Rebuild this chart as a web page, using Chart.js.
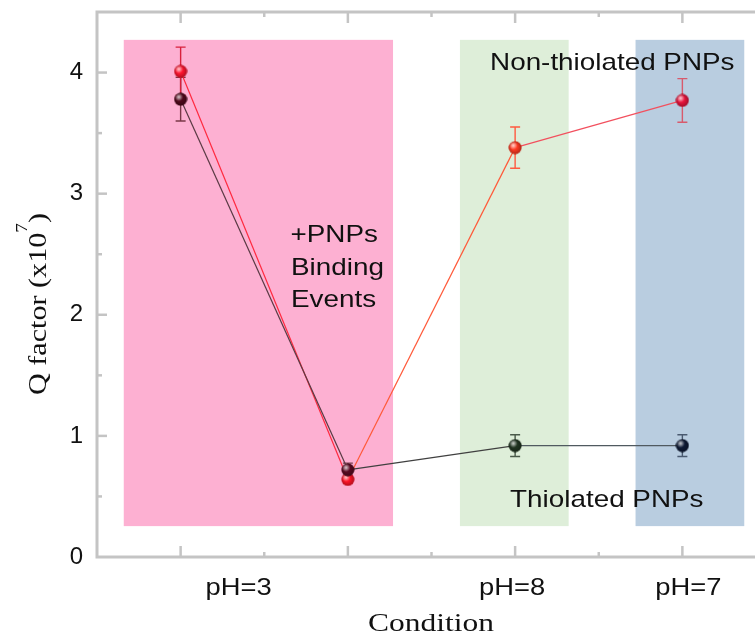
<!DOCTYPE html>
<html>
<head>
<meta charset="utf-8">
<script src="https://cdn.jsdelivr.net/npm/chart.js@4/dist/chart.umd.min.js"></script>
<style>
    body { margin: 0; overflow: hidden; background: #fff; }
    #qChart { display: block; }
</style>
</head>
<body>
<canvas id="qChart" width="780" height="639"></canvas>
<script>
// conditions along the x axis (second step has no label)
const conditions = ['pH=3', '', 'pH=8', 'pH=7'];

// Q factor (x10^7), mean and error
const nonThiolated = [4.01, 0.64, 3.38, 3.77];
const nonThiolatedErr = [0.2, 0.03, 0.17, 0.18];
const thiolated = [3.78, 0.72, 0.92, 0.92];
const thiolatedErr = [0.18, 0.055, 0.09, 0.09];

// shaded condition windows, in axis units
const bandFrom = [-0.34, 1.67, 2.72];
const bandTo = [1.27, 2.32, 3.37];
const bandLow = 0.255;
const bandHigh = 4.27;
const bandColors = ['rgb(253,176,210)', 'rgb(222,238,217)', 'rgb(185,205,224)'];

const redPointColors = ['#ff1530', '#ff1428', '#ff3a22', '#e8143c'];
const redErrColors = ['#d8203c', '#e02030', '#ff5a40', '#d85a6c'];
const redLineColors = ['#ff2a40', '#ff5a3a', '#f2505e'];
const darkPointColors = ['#50081c', '#5a0a22', '#223522', '#0e1a35'];
const darkErrColors = ['#7a3848', '#7a4050', '#4a5a4a', '#4a5a70'];
const darkLineColors = ['#5a3a44', '#404040', '#505a60'];

const sans = "'Liberation Sans', Arial, sans-serif";
const serif = "'Liberation Serif', 'Times New Roman', serif";
const frameColor = '#c4c4c4';

// small shaded ball used as marker
function sphere(color) {
    const c = document.createElement('canvas');
    c.width = 14;
    c.height = 14;
    const g = c.getContext('2d');
    g.beginPath();
    g.arc(7, 7, 6.5, 0, Math.PI * 2);
    g.fillStyle = color;
    g.fill();
    const hl = g.createRadialGradient(5.2, 4.8, 0, 5.2, 4.8, 4.2);
    hl.addColorStop(0, 'rgba(255,255,255,0.8)');
    hl.addColorStop(1, 'rgba(255,255,255,0)');
    g.fillStyle = hl;
    g.fill();
    const sh = g.createRadialGradient(6, 6, 3, 7, 7, 7);
    sh.addColorStop(0, 'rgba(0,0,0,0)');
    sh.addColorStop(1, 'rgba(0,0,0,0.35)');
    g.fillStyle = sh;
    g.fill();
    return c;
}

function stretchText(ctx, text, x, y, font, sx, align) {
    ctx.save();
    ctx.font = font;
    ctx.translate(x, y);
    ctx.scale(sx, 1);
    ctx.textAlign = align;
    ctx.textBaseline = 'alphabetic';
    ctx.fillStyle = '#111';
    ctx.fillText(text, 0, 0);
    ctx.restore();
}

const bandsPlugin = {
    id: 'bands',
    beforeDatasetsDraw(chart) {
        const { ctx, scales: { x, y } } = chart;
        ctx.save();
        bandFrom.forEach((from, i) => {
            const x0 = x.getPixelForValue(from);
            const x1 = x.getPixelForValue(bandTo[i]);
            const y0 = y.getPixelForValue(bandHigh);
            const y1 = y.getPixelForValue(bandLow);
            ctx.fillStyle = bandColors[i];
            ctx.fillRect(x0, y0, x1 - x0, y1 - y0);
        });
        ctx.restore();
    }
};

const errorBarsPlugin = {
    id: 'errorBars',
    beforeDatasetsDraw(chart) {
        const { ctx, scales: { x, y } } = chart;
        ctx.save();
        ctx.lineWidth = 1.4;
        chart.data.datasets.forEach(ds => {
            ds.data.forEach((p, i) => {
                const px = x.getPixelForValue(p.x);
                const top = y.getPixelForValue(p.y + ds.errors[i]);
                const bottom = y.getPixelForValue(p.y - ds.errors[i]);
                ctx.strokeStyle = ds.errorColors[i];
                ctx.beginPath();
                ctx.moveTo(px, top);
                ctx.lineTo(px, bottom);
                ctx.moveTo(px - 5, top);
                ctx.lineTo(px + 5, top);
                ctx.moveTo(px - 5, bottom);
                ctx.lineTo(px + 5, bottom);
                ctx.stroke();
            });
        });
        ctx.restore();
    }
};

// labels written inside the plot
const notes = [
    { text: '+PNPs', x: 0.657, y: 2.6 },
    { text: 'Binding', x: 0.66, y: 2.327 },
    { text: 'Events', x: 0.66, y: 2.063 },
    { text: 'Non-thiolated PNPs', x: 1.85, y: 4.02 },
    { text: 'Thiolated PNPs', x: 1.97, y: 0.41 }
];
const labelShift = [58, 0, -3, 6];

const framePlugin = {
    id: 'frame',
    afterDatasetsDraw(chart) {
        const { ctx, scales: { x, y } } = chart;
        notes.forEach(n => {
            stretchText(ctx, n.text, x.getPixelForValue(n.x), y.getPixelForValue(n.y), '24px ' + sans, 1.16, 'left');
        });
    },
    afterDraw(chart) {
        const { ctx, chartArea: a, scales: { x, y } } = chart;
        ctx.save();
        ctx.strokeStyle = frameColor;
        ctx.lineWidth = 2.5;
        const line = (x0, y0, x1, y1) => {
            ctx.beginPath();
            ctx.moveTo(x0, y0);
            ctx.lineTo(x1, y1);
            ctx.stroke();
        };
        for (let v = 0.5; v < 4.5; v += 0.5) {
            const py = y.getPixelForValue(v);
            const len = v % 1 === 0 ? 10 : 5;
            line(a.left, py, a.left + len, py);
            line(a.right, py, a.right - len, py);
        }
        for (let v = 0; v <= 3; v += 0.5) {
            const px = x.getPixelForValue(v);
            const len = v % 1 === 0 ? 11 : 5;
            line(px, a.bottom, px, a.bottom - len);
            line(px, a.top, px, a.top + len);
        }
        ctx.lineWidth = 3;
        ctx.strokeRect(a.left, a.top, a.right - a.left, a.bottom - a.top);
        ctx.restore();

        // category labels
        conditions.forEach((c, i) => {
            if (c) stretchText(ctx, c, x.getPixelForValue(i) + labelShift[i], 595, '24px ' + sans, 1.14, 'center');
        });

        // axis titles
        ctx.save();
        ctx.fillStyle = '#111';
        ctx.font = '26px ' + serif;
        const cw = ctx.measureText('Condition').width;
        ctx.translate(431, 631);
        ctx.scale(126 / cw, 1);
        ctx.textAlign = 'center';
        ctx.fillText('Condition', 0, 0);
        ctx.restore();

        ctx.save();
        ctx.fillStyle = '#111';
        ctx.translate(46, 304);
        ctx.rotate(-Math.PI / 2);
        ctx.font = '25px ' + serif;
        const part = 'Q factor (x10';
        const w1 = ctx.measureText(part).width;
        const w3 = ctx.measureText(')').width;
        ctx.font = '16px ' + serif;
        const w2 = ctx.measureText('7').width;
        const total = w1 + w2 + w3;
        ctx.scale(182 / total, 1);
        const start = -total / 2;
        ctx.font = '25px ' + serif;
        ctx.fillText(part, start, 0);
        ctx.fillText(')', start + w1 + w2, 0);
        ctx.font = '16px ' + serif;
        ctx.fillText('7', start + w1, -19);
        ctx.restore();
    }
};

const toPoints = arr => arr.map((v, i) => ({ x: i, y: v }));

new Chart(document.getElementById('qChart'), {
    type: 'line',
    data: {
        datasets: [{
            label: 'Thiolated PNPs',
            data: toPoints(thiolated),
            errors: thiolatedErr,
            errorColors: darkErrColors,
            borderWidth: 1.2,
            borderColor: darkLineColors[0],
            segment: { borderColor: c => darkLineColors[c.p0DataIndex] },
            pointStyle: darkPointColors.map(sphere),
            tension: 0
        }, {
            label: 'Non-thiolated PNPs',
            data: toPoints(nonThiolated),
            errors: nonThiolatedErr,
            errorColors: redErrColors,
            borderWidth: 1.2,
            borderColor: redLineColors[0],
            segment: { borderColor: c => redLineColors[c.p0DataIndex] },
            pointStyle: redPointColors.map(sphere),
            tension: 0
        }]
    },
    options: {
        responsive: false,
        animation: false,
        events: [],
        layout: { padding: { top: 12, right: 14, left: 0, bottom: 0 } },
        plugins: { legend: { display: false }, tooltip: { enabled: false } },
        scales: {
            x: {
                type: 'linear',
                min: -0.5,
                max: 3.5,
                grid: { display: false },
                border: { display: false },
                ticks: { display: false },
                afterFit: s => { s.height = 82; s.paddingLeft = 0; s.paddingRight = 0; }
            },
            y: {
                min: 0,
                max: 4.5,
                grid: { display: false, drawTicks: false },
                border: { display: false },
                ticks: {
                    stepSize: 0.5,
                    autoSkip: false,
                    padding: 14,
                    color: '#111',
                    font: { family: sans, size: 24 },
                    callback: v => Number.isInteger(v) ? v : ''
                },
                afterFit: s => { s.width = 97; s.paddingTop = 0; s.paddingBottom = 0; }
            }
        }
    },
    plugins: [bandsPlugin, errorBarsPlugin, framePlugin]
});
</script>
</body>
</html>
